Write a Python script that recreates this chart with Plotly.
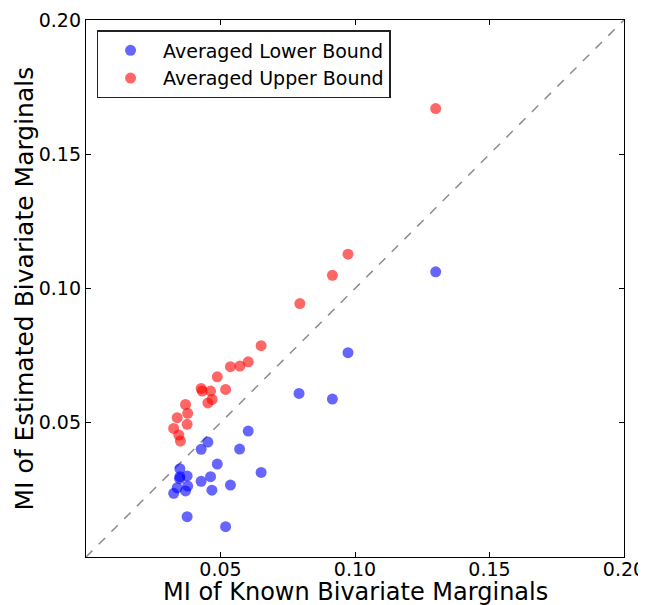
import plotly.graph_objects as go

# Averaged Lower Bound (blue)
lower_x = [0.0792, 0.0603, 0.0453, 0.0428, 0.0571, 0.0349, 0.0488, 0.0463,
           0.0428, 0.0349, 0.0376, 0.0348, 0.0378, 0.0339, 0.0326, 0.0370,
           0.0468, 0.0537, 0.0651, 0.0376, 0.0519, 0.1300, 0.0974, 0.0916]
lower_y = [0.0609, 0.0469, 0.0428, 0.0401, 0.0402, 0.0329, 0.0346, 0.0299,
           0.0282, 0.0299, 0.0302, 0.0292, 0.0264, 0.0258, 0.0237, 0.0246,
           0.0249, 0.0268, 0.0315, 0.0150, 0.0113, 0.1062, 0.0761, 0.0588]

# Averaged Upper Bound (red)
upper_x = [0.0974, 0.0916, 0.0795, 0.1300, 0.0651, 0.0603, 0.0572, 0.0537,
           0.0488, 0.0519, 0.0428, 0.0432, 0.0463, 0.0469, 0.0453, 0.0370,
           0.0378, 0.0339, 0.0376, 0.0326, 0.0345, 0.0351]
upper_y = [0.1128, 0.1049, 0.0944, 0.1670, 0.0787, 0.0727, 0.0711, 0.0709,
           0.0671, 0.0624, 0.0628, 0.0618, 0.0618, 0.0587, 0.0574, 0.0568,
           0.0535, 0.0519, 0.0494, 0.0479, 0.0454, 0.0432]

diag = [0.0, 0.2]
tick_vals = [0.05, 0.10, 0.15, 0.20]
tick_text = ["0.05", "0.10", "0.15", "0.20"]
x_title = "MI of Known Bivariate Marginals"
y_title = "MI of Estimated Bivariate Marginals"

FONT = "DejaVu Sans"

fig = go.Figure()
fig.add_trace(go.Scatter(x=diag, y=diag, mode="lines", showlegend=False,
                         line=dict(color="#8c8c8c", width=1.5, dash="dash"),
                         hoverinfo="skip"))
fig.add_trace(go.Scatter(x=lower_x, y=lower_y, mode="markers",
                         name="Averaged Lower Bound",
                         marker=dict(color="#0000ff", size=11, opacity=0.6,
                                     line=dict(width=0))))
fig.add_trace(go.Scatter(x=upper_x, y=upper_y, mode="markers",
                         name="Averaged Upper Bound",
                         marker=dict(color="#ff0000", size=11, opacity=0.6,
                                     line=dict(width=0))))

axis_common = dict(range=[0, 0.2], tickvals=tick_vals, ticktext=tick_text,
                   ticks="inside", ticklen=5, tickwidth=1, tickcolor="black",
                   showline=True, linecolor="black", linewidth=1.3,
                   mirror="allticks", showgrid=False, zeroline=False,
                   tickfont=dict(family=FONT, size=19, color="black"),
                   automargin=False)

fig.update_layout(
    width=638, height=597,
    margin=dict(l=78, r=22, t=12, b=48),
    paper_bgcolor="white", plot_bgcolor="white",
    font=dict(family=FONT, color="black"),
    xaxis=dict(ticklabelstandoff=-5, **axis_common),
    yaxis=axis_common,
    legend=dict(x=0.02, y=0.981, xanchor="left", yanchor="top",
                bgcolor="white", bordercolor="#222222", borderwidth=1.3,
                font=dict(family=FONT, size=19, color="black"),
                itemwidth=55, tracegroupgap=0),
    showlegend=True,
    annotations=[
        dict(text=x_title, xref="paper", yref="paper", x=0.5, y=0,
             xanchor="center", yanchor="middle", yshift=-35, showarrow=False,
             font=dict(family=FONT, size=24, color="black")),
        dict(text=y_title, xref="paper", yref="paper", x=0, y=0.5,
             xanchor="center", yanchor="middle", xshift=-62, textangle=-90,
             showarrow=False, font=dict(family=FONT, size=25, color="black")),
    ],
)

fig.write_html("out.html")
